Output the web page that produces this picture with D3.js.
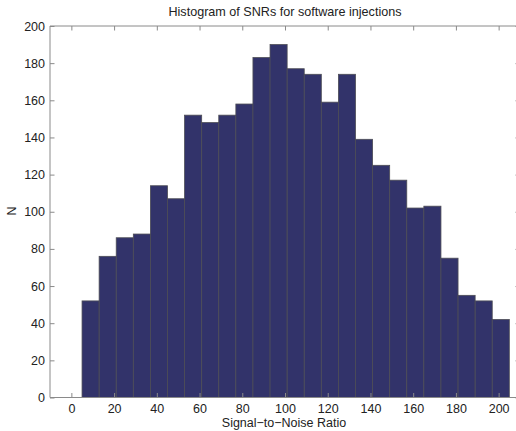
<!DOCTYPE html>
<html><head><meta charset="utf-8">
<script src="https://cdn.jsdelivr.net/npm/d3@7"></script>
<style>body{margin:0;background:#fff;}svg{display:block;font-family:"Liberation Sans",Arial,sans-serif;}</style>
</head><body>
<svg id="c" width="516" height="431"></svg>
<script>
const binStart = 5;
const binWidth = 8;
const counts = [52,76,86,88,114,107,152,148,152,158,183,190,177,174,159,174,139,125,117,102,103,75,55,52,42];
const xTicks = [0,20,40,60,80,100,120,140,160,180,200];
const yTicks = [0,20,40,60,80,100,120,140,160,180,200];
const title = "Histogram of SNRs for software injections";
const xLabel = "Signal\u2212to\u2212Noise Ratio";
const yLabel = "N";

const svg = d3.select("#c");
const L = 50, R = 520, T = 26, B = 397.5;
const x = d3.scaleLinear().domain([-10,210]).range([L,R]);
const y = d3.scaleLinear().domain([0,200]).range([B,T]);
const axisCol = "#8a8a8a", textCol = "#222";

const bins = counts.map((c,i)=>({x0:binStart+i*binWidth, x1:binStart+(i+1)*binWidth, n:c}));
svg.append("g").selectAll("rect").data(bins).join("rect")
  .attr("x", d=>x(d.x0)).attr("width", d=>x(d.x1)-x(d.x0))
  .attr("y", d=>y(d.n)).attr("height", d=>y(0)-y(d.n))
  .attr("fill","#32336a").attr("stroke","#4d4d55").attr("stroke-width",0.8);

const g = svg.append("g");
g.append("line").attr("x1",L).attr("x2",R).attr("y1",T).attr("y2",T).attr("stroke",axisCol);
g.append("line").attr("x1",L).attr("x2",R).attr("y1",B).attr("y2",B).attr("stroke",axisCol);
g.append("line").attr("x1",L).attr("x2",L).attr("y1",T).attr("y2",B).attr("stroke",axisCol);
g.append("line").attr("x1",R).attr("x2",R).attr("y1",T).attr("y2",B).attr("stroke",axisCol);

const tl = 4.5;
const xb = svg.append("g").attr("transform",`translate(0,${B})`)
  .call(d3.axisBottom(x).tickValues(xTicks).tickSize(-tl).tickPadding(7).tickFormat(d3.format("d")));
const xt = svg.append("g").attr("transform",`translate(0,${T})`)
  .call(d3.axisTop(x).tickValues(xTicks).tickSize(-tl).tickFormat(""));
const yl = svg.append("g").attr("transform",`translate(${L},0)`)
  .call(d3.axisLeft(y).tickValues(yTicks).tickSize(-tl).tickPadding(5).tickFormat(d3.format("d")));
const yr = svg.append("g").attr("transform",`translate(${R},0)`)
  .call(d3.axisRight(y).tickValues(yTicks).tickSize(-tl).tickFormat(""));
[xb,xt,yl,yr].forEach(a=>{
  a.select(".domain").remove();
  a.selectAll(".tick line").attr("stroke",axisCol);
  a.selectAll(".tick text").attr("fill",textCol).style("font-size","12.5px").style("font-family","'Liberation Sans',Arial,sans-serif");
});

svg.append("text").attr("x",285).attr("y",16).attr("text-anchor","middle")
  .attr("fill",textCol).style("font-size","12.6px").text(title);
svg.append("text").attr("x",284).attr("y",427).attr("text-anchor","middle")
  .attr("fill",textCol).style("font-size","12.5px").text(xLabel);
svg.append("text").attr("transform","translate(16,211) rotate(-90)").attr("text-anchor","middle")
  .attr("fill",textCol).style("font-size","12.5px").text(yLabel);
</script>
</body></html>
